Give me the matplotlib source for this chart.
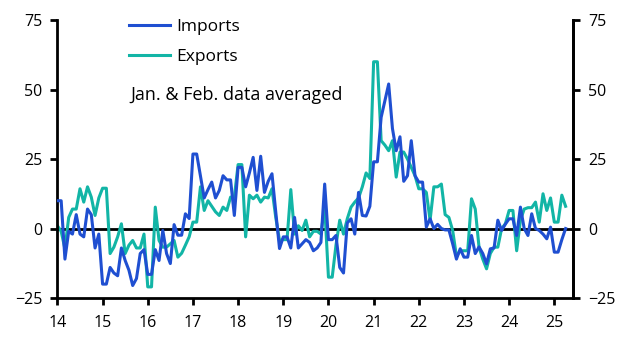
import matplotlib
matplotlib.use('Agg')
import matplotlib.pyplot as plt
import numpy as np

# monthly data, Jan 2014 - Apr 2025 (% y/y)
imports = [
    10, 10, -11, -1, -2, 5, -2, -3, 7, 5, -7, -2,               # 2014
    -20, -20, -14, -16, -17, -7, -11.5, -15, -20.5, -18, -9, -7.6,  # 2015
    -16.5, -16.5, -7.6, -11.5, -0.7, -9, -12.6, 1.4, -2.4, -2.4, 5.3, 3.6,  # 2016
    26.8, 26.8, 19, 11, 14, 16.7, 11, 13.7, 19, 17.5, 17.5, 4.7,  # 2017
    22, 22, 15, 20, 25.6, 13.7, 26, 13, 17, 19.7, 6, -7.2,      # 2018
    -3, -3, -7, 4, -7, -5.5, -4, -5, -8, -7, -5, 16,             # 2019
    -4, -4, -2.5, -14, -16, 2, 3.5, -2, 13, 4.7, 4.5, 8,         # 2020
    24, 24, 40, 46, 52, 36, 28, 33, 17, 19, 31.6, 19,            # 2021
    16.7, 16.7, 0.5, 3.5, 0, 1.5, 0, -0.5, -0.5, -5.5, -11, -7.3,  # 2022
    -10.3, -10.3, -2.5, -9, -6.6, -9, -12.7, -7.3, -7, 3, -0.7, 1.6,  # 2023
    3.5, 3.5, -2.5, 7.7, 0, -2.5, 5.3, 0, -0.7, -2, -3.7, 0.5,   # 2024
    -8.5, -8.5, -4, 0,                                           # 2025
]
exports = [
    1, -1, -7.3, 4, 7, 7, 14.3, 9.5, 15, 11.3, 4.7, 11,          # 2014
    14.5, 14.5, -9, -6.7, -3, 1.7, -9, -6, -4.3, -7, -7, -2,     # 2015
    -21, -21, 7.7, -4.3, -6.7, -6.7, -5.5, -4.3, -10.3, -8.9, -6, -3,  # 2016
    2.3, 2.3, 15, 6.5, 10, 8, 6, 4.7, 7.7, 6.5, 11.3, 11.3,      # 2017
    23, 23, -3, 12, 10.7, 12, 9.5, 11.3, 11, 14.3, 4, -4.3,      # 2018
    -4, -4, 14, -2, 1, -0.7, 3, -3, -1, -1, -2, 8,               # 2019
    -17.5, -17.5, -6, 3, -2, 3.5, 7.7, 9.5, 11, 15, 20, 18,      # 2020
    60, 60, 31.6, 30, 28, 31.6, 18.5, 27.5, 27.5, 25, 22, 19,    # 2021
    14.3, 14.3, 13, 3, 15, 15, 16, 5, 4, -0.7, -10, -8,          # 2022
    -8, -8, 10.7, 7, -6.7, -11, -14.5, -9, -6.7, -6.7, 0, 1.7,   # 2023
    6.5, 6.5, -8, 3, 7, 7.5, 7.5, 9.5, 2.3, 12.5, 6.5, 11,       # 2024
    2.3, 2.3, 12, 8,                                             # 2025
]
start_year = 2014
year_ticks = list(range(2014, 2026))
year_labels = [str(y)[2:] for y in year_ticks]
y_ticks = [-25, 0, 25, 50, 75]

plt.rcParams['font.family'] = ['Open Sans', 'DejaVu Sans']

dates = start_year + np.arange(len(imports)) / 12.0

fig = plt.figure(figsize=(6.24, 3.4), dpi=100)
ax = fig.add_axes([0.092, 0.1235, 0.826, 0.8175])

ax.axhline(0, color='black', lw=2.0, zorder=1)
ax.plot(dates, imports, color='#1f4fd1', lw=2.2, label='Imports', zorder=3)
ax.plot(dates, exports, color='#12b5a6', lw=2.2, label='Exports', zorder=2)

ax.set_xlim(2014, 2025.41)
ax.set_ylim(-25, 75)
ax.set_xticks(year_ticks)
ax.set_xticklabels(year_labels)
ax.set_yticks(y_ticks)

ax.spines['top'].set_visible(False)
for s in ['left', 'right', 'bottom']:
    ax.spines[s].set_linewidth(2.0)

ax.tick_params(axis='both', direction='out', length=5, width=2,
               labelsize=11.5, colors='black', pad=6)
ax.tick_params(axis='x', pad=7)

ax2 = ax.twinx()
ax2.set_ylim(-25, 75)
ax2.set_yticks(y_ticks)
ax2.spines['top'].set_visible(False)
ax2.spines['right'].set_linewidth(2.0)
ax2.spines['left'].set_visible(False)
ax2.spines['bottom'].set_visible(False)
ax2.tick_params(axis='y', direction='out', length=5, width=2,
                labelsize=11.5, pad=6)

leg = ax.legend(loc='upper left', bbox_to_anchor=(0.125, 1.03), frameon=False,
                fontsize=12.5, handlelength=2.4, handletextpad=0.35,
                labelspacing=0.8, borderaxespad=0)
ax.text(0.1406, 0.73, 'Jan. & Feb. data averaged', transform=ax.transAxes,
        fontsize=13, ha='left', va='center')

fig.savefig('out.png', dpi=100)
